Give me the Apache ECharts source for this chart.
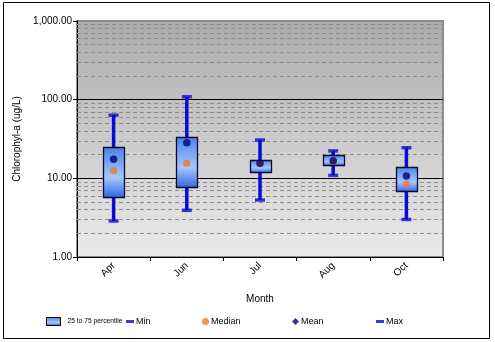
<!DOCTYPE html>
<html>
<head>
<meta charset="utf-8">
<script src="https://cdn.jsdelivr.net/npm/echarts@6/dist/echarts.min.js"></script>
<style>
  html, body { margin: 0; padding: 0; background: #fff; }
  #chart { width: 495px; height: 342px; }
</style>
</head>
<body>
<div id="chart"></div>
<script>
// Chlorophyll-a box summary by month (ug/L)
const months  = ['Apr', 'Jun', 'Jul', 'Aug', 'Oct'];
const minVals = [2.87, 3.92, 5.3, 10.9, 3.0];
const q1Vals  = [5.75, 7.75, 11.8, 14.6, 6.85];
const median  = [12.5, 15.5, 15.2, 16.5, 8.45];
const q3Vals  = [25.0, 33.5, 16.9, 19.6, 13.8];
const maxVals = [63.5, 109, 30.7, 22.3, 24.5];
const meanVals = [17.5, 28.4, 15.5, 16.7, 10.7];
const yTicks = [1, 10, 100, 1000];
const minorGrid = [2, 3, 4, 5, 6, 7, 8, 9, 20, 30, 40, 50, 60, 70, 80, 90, 200, 300, 400, 500, 600, 700, 800, 900];

const FONT = 'Liberation Sans, Arial, sans-serif';
const WHISKER = '#0b0bd0';

function boxFill() {
  return new echarts.graphic.LinearGradient(0, 0, 0, 1, [
    { offset: 0, color: '#4a82ea' },
    { offset: 0.6, color: '#a6c6fc' },
    { offset: 1, color: '#2d66e4' }
  ]);
}

const chart = echarts.init(document.getElementById('chart'), null, { renderer: 'canvas' });

const legendBase = {
  top: 317,
  itemGap: 0,
  textStyle: { fontFamily: FONT, fontSize: 9, color: '#000', padding: [0, 0, 0, -3] },
  selectedMode: false,
  padding: 0
};

chart.setOption({
  animation: false,
  backgroundColor: '#fff',
  textStyle: { fontFamily: FONT },
  graphic: [{
    type: 'rect',
    shape: { x: 3.5, y: 2.5, width: 486, height: 336 },
    style: { fill: 'none', stroke: '#000', lineWidth: 1 },
    silent: true,
    z: 100
  }],
  grid: {
    left: 77, top: 21, right: 52, bottom: 85,
    show: true,
    borderColor: '#8c8c8c',
    borderWidth: 2,
    backgroundColor: new echarts.graphic.LinearGradient(0, 0, 0, 1, [
      { offset: 0, color: '#ababab' },
      { offset: 1, color: '#ebebeb' }
    ])
  },
  legend: [
    Object.assign({}, legendBase, {
      left: 46, itemWidth: 14, itemHeight: 8,
      textStyle: Object.assign({}, legendBase.textStyle, { fontSize: 6.7, padding: [0, 0, 0, 2] }),
      data: [{ name: '25 to 75 percentile', icon: 'rect',
               itemStyle: { color: boxFill(), borderColor: '#000', borderWidth: 1 } }]
    }),
    Object.assign({}, legendBase, {
      left: 126, itemWidth: 8, itemHeight: 3,
      data: [{ name: 'Min', icon: 'rect', itemStyle: { color: WHISKER } }]
    }),
    Object.assign({}, legendBase, {
      left: 202, itemWidth: 7, itemHeight: 7,
      data: [{ name: 'Median', icon: 'circle', itemStyle: { color: '#f47a20' } }]
    }),
    Object.assign({}, legendBase, {
      left: 292, itemWidth: 7, itemHeight: 7,
      data: [{ name: 'Mean', icon: 'diamond', itemStyle: { color: '#000080' } }]
    }),
    Object.assign({}, legendBase, {
      left: 376, itemWidth: 8, itemHeight: 3,
      data: [{ name: 'Max', icon: 'rect', itemStyle: { color: WHISKER } }]
    })
  ],
  xAxis: {
    type: 'category',
    data: months,
    name: 'Month',
    nameLocation: 'middle',
    nameGap: 37,
    nameTextStyle: { fontFamily: FONT, fontSize: 10, color: '#000' },
    axisLine: { show: true, lineStyle: { color: '#000', width: 1 } },
    axisTick: { show: true, length: 4, lineStyle: { color: '#000' } },
    axisLabel: { rotate: 45, fontFamily: FONT, fontSize: 10, color: '#000', margin: 7 },
    splitLine: { show: false }
  },
  yAxis: {
    type: 'log',
    logBase: 10,
    min: yTicks[0],
    max: yTicks[yTicks.length - 1],
    name: 'Chlorophyl-a (ug/L)',
    nameLocation: 'middle',
    nameGap: 45,
    nameTextStyle: { fontFamily: FONT, fontSize: 10, color: '#000' },
    axisLine: { show: true, lineStyle: { color: '#000', width: 1 } },
    axisTick: { show: true, length: 4, lineStyle: { color: '#000' } },
    axisLabel: {
      fontFamily: FONT, fontSize: 10, color: '#000', margin: 5,
      formatter: v => Number(v).toLocaleString('en-US', { minimumFractionDigits: 2, maximumFractionDigits: 2 })
    },
    splitLine: { show: true, showMaxLine: false, lineStyle: { color: '#000', width: 1 } },
    minorTick: { show: false },
    minorSplitLine: { show: false }
  },
  series: [
    {
      // dashed minor gridlines at 2..9 of every decade
      name: '_minor',
      type: 'line',
      data: [],
      silent: true,
      z: 1,
      markLine: {
        silent: true,
        z: 1,
        symbol: ['none', 'none'],
        label: { show: false },
        lineStyle: { type: [4, 3], color: '#8e8e8e', width: 1 },
        data: minorGrid.map(v => ({ yAxis: v }))
      }
    },
    {
      name: '_whisker',
      type: 'custom',
      z: 2,
      silent: true,
      data: months.map((m, i) => [i, minVals[i], maxVals[i]]),
      renderItem: (params, api) => {
        const lo = api.coord([api.value(0), api.value(1)]);
        const hi = api.coord([api.value(0), api.value(2)]);
        return {
          type: 'line',
          shape: { x1: lo[0], y1: lo[1], x2: hi[0], y2: hi[1] },
          style: { stroke: WHISKER, lineWidth: 3.5 }
        };
      }
    },
    {
      name: '25 to 75 percentile',
      type: 'custom',
      z: 3,
      itemStyle: { color: '#4a82ea' },
      data: months.map((m, i) => [i, q1Vals[i], q3Vals[i]]),
      renderItem: (params, api) => {
        const lo = api.coord([api.value(0), api.value(1)]);
        const hi = api.coord([api.value(0), api.value(2)]);
        const w = 21;
        return {
          type: 'rect',
          shape: { x: Math.round(lo[0] - w / 2) + 0.5, y: Math.round(hi[1]) + 0.5, width: w, height: Math.round(lo[1] - hi[1]) },
          style: { fill: boxFill(), stroke: '#0a0a30', lineWidth: 1.3 }
        };
      }
    },
    {
      name: 'Min',
      type: 'scatter',
      z: 4,
      symbol: 'rect',
      symbolSize: [10, 3.5],
      itemStyle: { color: WHISKER },
      data: minVals.map((v, i) => [i, v])
    },
    {
      name: 'Max',
      type: 'scatter',
      z: 4,
      symbol: 'rect',
      symbolSize: [10, 3.5],
      itemStyle: { color: WHISKER },
      data: maxVals.map((v, i) => [i, v])
    },
    {
      name: 'Median',
      type: 'scatter',
      z: 5,
      symbol: 'circle',
      symbolSize: 7,
      itemStyle: { color: '#f47a20' },
      data: median.map((v, i) => [i, v])
    },
    {
      name: 'Mean',
      type: 'scatter',
      z: 6,
      symbol: 'circle',
      symbolSize: 7.5,
      itemStyle: { color: '#000080' },
      data: meanVals.map((v, i) => [i, v])
    }
  ]
});
</script>
</body>
</html>
